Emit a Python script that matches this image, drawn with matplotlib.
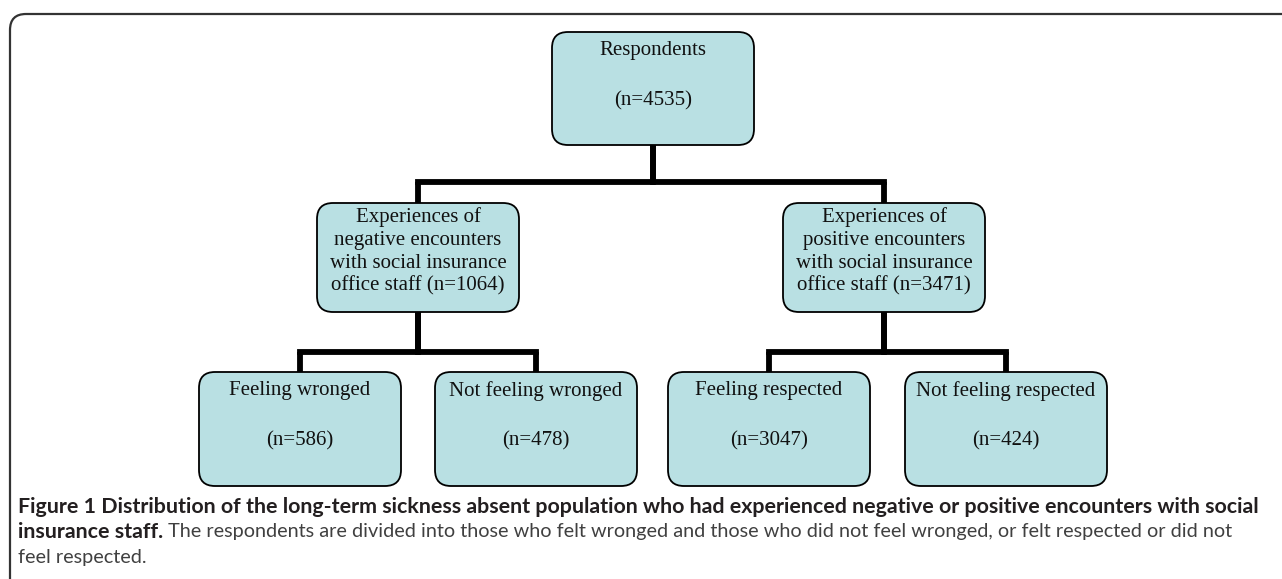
import matplotlib
matplotlib.use("Agg")
import matplotlib.pyplot as plt
from matplotlib.patches import FancyBboxPatch
from matplotlib.path import Path
from matplotlib.patches import PathPatch

# ---- data ----
node_titles = [
    "Respondents",
    "Experiences of\nnegative encounters\nwith social insurance\noffice staff",
    "Experiences of\npositive encounters\nwith social insurance\noffice staff",
    "Feeling wronged",
    "Not feeling wronged",
    "Feeling respected",
    "Not feeling respected",
]
node_counts = [4535, 1064, 3471, 586, 478, 3047, 424]
node_parent = [None, 0, 0, 1, 1, 2, 2]
node_level = [0, 1, 1, 2, 2, 2, 2]

caption_bold_1 = ("Figure 1 Distribution of the long-term sickness absent population "
                  "who had experienced negative or positive encounters with social")
caption_bold_2 = "insurance staff."
caption_reg_2 = (" The respondents are divided into those who felt wronged and those "
                 "who did not feel wronged, or felt respected or did not")
caption_reg_3 = "feel respected."

# ---- layout (pixels) ----
W, H = 1282, 579
node_cx = [653, 418, 884, 300, 536, 769, 1006]
box_w = 202
level_top = {0: 32, 1: 203, 2: 372}
level_bot = {0: 145, 1: 312, 2: 486}
bar_y = {1: 182, 2: 352}
fill = "#b9e0e3"

fig = plt.figure(figsize=(W / 100, H / 100), dpi=100)
ax = fig.add_axes([0, 0, 1, 1])
ax.set_xlim(0, W)
ax.set_ylim(H, 0)
ax.axis("off")

# frame
r = 16
verts = [(10, H + 5), (10, 14 + r), (10, 14), (10 + r, 14), (W + 5, 14)]
codes = [Path.MOVETO, Path.LINETO, Path.CURVE3, Path.CURVE3, Path.LINETO]
ax.add_patch(PathPatch(Path(verts, codes), fill=False, edgecolor="#333333", lw=1.6))

# connectors
lwc = 4.2
for i, p in enumerate(node_parent):
    if p is None:
        continue
    lvl = node_level[i]
    y = bar_y[lvl]
    ax.plot([node_cx[i], node_cx[i]], [y, level_top[lvl]], color="black", lw=lwc,
            solid_capstyle="butt", zorder=1)
    ax.plot([node_cx[p], node_cx[p]], [level_bot[node_level[p]], y], color="black",
            lw=lwc, solid_capstyle="butt", zorder=1)
    ax.plot([node_cx[p], node_cx[i]], [y, y], color="black", lw=lwc,
            solid_capstyle="projecting", zorder=1)

serif = "Liberation Serif"
for i, (t, n) in enumerate(zip(node_titles, node_counts)):
    lvl = node_level[i]
    x0 = node_cx[i] - box_w / 2
    y0 = level_top[lvl]
    h = level_bot[lvl] - y0
    ax.add_patch(FancyBboxPatch((x0, y0), box_w, h,
                                boxstyle="round,pad=0,rounding_size=16",
                                facecolor=fill, edgecolor="black", lw=1.3, zorder=2))
    if lvl == 1:
        lines = t.split("\n")
        lines[-1] = lines[-1] + f" (n={n})"
        for k, ln in enumerate(lines):
            ax.text(node_cx[i], y0 + 14 + k * 23, ln, ha="center", va="center",
                    family=serif, fontsize=15, color="#111111", zorder=3)
    else:
        ax.text(node_cx[i], y0 + 19, t, ha="center", va="center",
                family=serif, fontsize=15, color="#111111", zorder=3)
        ax.text(node_cx[i], y0 + 69, f"(n={n})", ha="center", va="center",
                family=serif, fontsize=15, color="#111111", zorder=3)

# caption
cap_font = "Lato"
fig.canvas.draw()
rend = fig.canvas.get_renderer()


def fit(txt, fs0, target):
    bb = txt.get_window_extent(rend)
    txt.set_fontsize(fs0 * target / bb.width)
    return txt.get_fontsize()


x_left = 18
t1 = ax.text(x_left, 507, caption_bold_1, ha="left", va="center", family=cap_font,
             fontweight="bold", fontsize=15, color="#231f20")
fs_b = fit(t1, 15, 1262 - x_left)
t2 = ax.text(x_left, 532, caption_bold_2, ha="left", va="center", family=cap_font,
             fontweight="bold", fontsize=fs_b, color="#231f20")
bb2 = t2.get_window_extent(rend)
x_end = ax.transData.inverted().transform((bb2.x1, 0))[0]
t3 = ax.text(x_end, 532, caption_reg_2, ha="left", va="center", family=cap_font,
             fontsize=15, color="#404040")
fs_r = fit(t3, 15, 1234 - x_end)
ax.text(x_left, 557, caption_reg_3, ha="left", va="center", family=cap_font,
        fontsize=fs_r, color="#404040")

fig.savefig("out.png", dpi=100, facecolor="white")
